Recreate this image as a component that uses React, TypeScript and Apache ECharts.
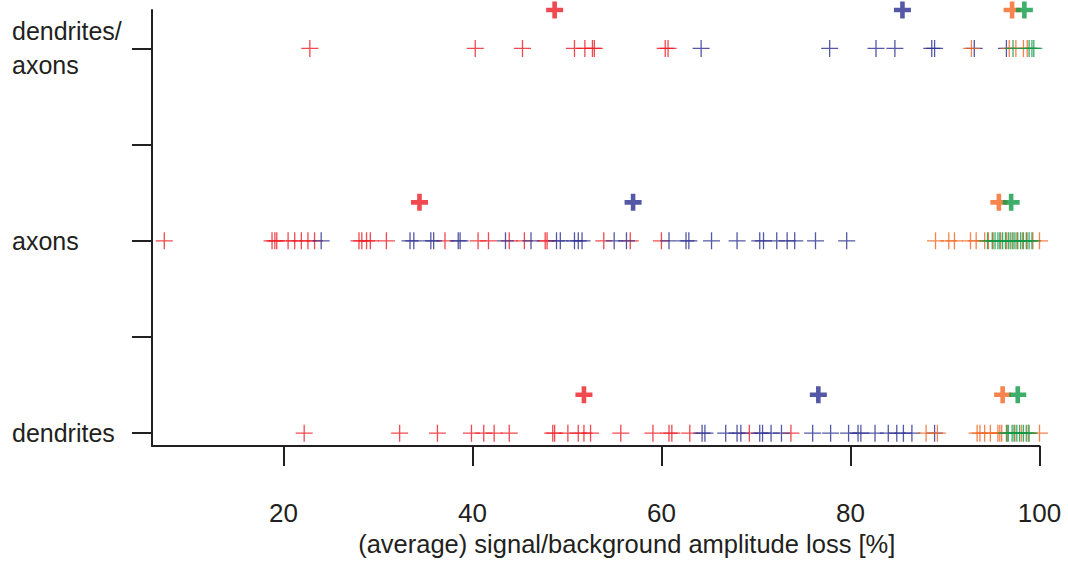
import React, { useEffect, useRef } from "react";
import * as echarts from "echarts";

// Row positions on the y axis
const rowNames: Record<number, string> = { 0: "dendrites", 2: "axons", 4: "dendrites/\naxons" };
const rowDendrites = 0;
const rowAxons = 2;
const rowBoth = 4;
const meanOffset = 0.4;

const xTicks = [20, 40, 60, 80, 100];
const yTicks = [0, 1, 2, 3, 4];
const yLabelTicks = [0, 2, 4];

// Individual measurements, amplitude loss [%]
const dendritesRed = [22.2, 32.3, 36.3, 39.9, 41.2, 42.3, 43.9, 48.5, 48.7, 50.1, 51.2, 51.8, 52.5, 55.7, 59.1, 60.8, 61.1, 63.0, 69.3, 73.7];
const dendritesBlue = [64.3, 64.6, 66.8, 68.0, 68.4, 70.4, 70.7, 71.6, 72.7, 76.0, 77.9, 79.8, 80.8, 81.1, 82.6, 84.0, 84.9, 85.6, 86.5, 88.9];
const dendritesOrange = [88.0, 89.2, 93.4, 93.7, 94.2, 94.8, 95.6, 95.8, 96.0, 96.6, 97.4, 98.1, 98.8, 100.0];
const dendritesGreen = [96.5, 96.7, 97.1, 97.3, 97.6, 97.9, 98.3, 98.6, 98.9];

const axonsRed = [7.4, 18.8, 19.1, 19.3, 20.5, 21.2, 21.9, 22.6, 23.3, 28.0, 28.3, 28.8, 29.2, 30.9, 37.1, 40.6, 41.7, 43.9, 45.5, 47.7, 47.9, 53.9, 56.7, 60.0];
const axonsBlue = [24.0, 33.4, 33.8, 35.6, 35.9, 38.5, 38.7, 43.5, 46.2, 48.9, 49.3, 50.8, 51.2, 51.6, 55.0, 56.3, 60.8, 62.6, 62.9, 65.3, 68.0, 70.4, 70.8, 72.2, 73.3, 74.1, 76.3, 79.6];
const axonsOrange = [89.0, 90.4, 91.0, 92.7, 93.3, 94.2, 94.6, 95.1, 95.9, 96.5, 97.1, 97.6, 98.2, 98.7, 99.3, 100.0];
const axonsGreen = [94.5, 95.0, 95.3, 95.6, 95.8, 96.1, 96.4, 96.7, 96.9, 97.2, 97.4, 97.7, 98.0, 98.3, 98.6, 98.9, 99.2];

const bothRed = [22.8, 40.3, 45.3, 50.8, 51.9, 52.7, 52.9, 60.4, 60.7];
const bothBlue = [64.2, 77.8, 82.7, 84.7, 88.6, 88.9, 93.1, 96.5];
const bothOrange = [92.8, 96.8, 97.5, 98.3, 98.7];
const bothGreen = [97.2, 98.9, 99.2, 99.4];

// Means, in order: dendrites, axons, dendrites/axons
const meanRed = [51.8, 34.4, 48.7];
const meanBlue = [76.6, 57.0, 85.5];
const meanOrange = [96.1, 95.7, 97.1];
const meanGreen = [97.7, 97.0, 98.4];

const RED = "#ed1c24";
const BLUE = "#2b2e8f";
const ORANGE = "#f26522";
const GREEN = "#0f9a46";
const INK = "#231f20";
const FONT = "'Liberation Sans', Arial, Helvetica, sans-serif";

const THIN = "path://M7.85,0H9.15V7.85H17V9.15H9.15V17H7.85V9.15H0V7.85H7.85Z";
const BOLD = "path://M6.2,0H10.8V6.2H17V10.8H10.8V17H6.2V10.8H0V6.2H6.2Z";

const rowsOf = (d: number[], a: number[], b: number[]) => [
  ...d.map((v) => [v, rowDendrites]),
  ...a.map((v) => [v, rowAxons]),
  ...b.map((v) => [v, rowBoth]),
];
const meansOf = (m: number[]) => [
  [m[0], rowDendrites + meanOffset],
  [m[1], rowAxons + meanOffset],
  [m[2], rowBoth + meanOffset],
];

export default function App() {
  const ref = useRef<HTMLDivElement>(null);
  useEffect(() => {
    if (!ref.current) return;
    const chart = echarts.init(ref.current, undefined, { renderer: "svg" });
    const pts = (name: string, color: string, data: number[][]) => ({
      name,
      type: "scatter",
      data,
      symbol: THIN,
      symbolSize: 17,
      clip: false,
      itemStyle: { color },
      silent: true,
    });
    const means = (name: string, color: string, data: number[][]) => ({
      name,
      type: "scatter",
      data,
      symbol: BOLD,
      symbolSize: 17,
      clip: false,
      itemStyle: { color },
      silent: true,
      z: 5,
    });
    chart.setOption({
      animation: false,
      backgroundColor: "#ffffff",
      grid: { left: 152, right: 28.5, top: 10, bottom: 105 },
      xAxis: {
        type: "value",
        min: 6.1,
        max: 100,
        splitLine: { show: false },
        axisLine: { show: true, onZero: false, lineStyle: { color: INK, width: 2 } },
        axisTick: { show: true, length: 20, customValues: xTicks, lineStyle: { color: INK, width: 2 } },
        axisLabel: { customValues: xTicks, margin: 54, color: INK, fontSize: 26, fontFamily: FONT },
        name: "(average) signal/background amplitude loss [%]",
        nameLocation: "middle",
        nameGap: 79,
        nameTextStyle: { color: INK, fontSize: 25.5, fontFamily: FONT, padding: [0, 0, 0, 62] },
      },
      yAxis: {
        type: "value",
        min: -0.134,
        max: 4.4,
        splitLine: { show: false },
        axisLine: { show: true, onZero: false, lineStyle: { color: INK, width: 2 } },
        axisTick: { show: true, length: 20, customValues: yTicks, lineStyle: { color: INK, width: 2 } },
        axisLabel: {
          customValues: yLabelTicks,
          formatter: (v: number) => rowNames[Math.round(v)] ?? "",
          margin: 140,
          align: "left",
          color: INK,
          fontSize: 25,
          lineHeight: 34,
          fontFamily: FONT,
        },
      },
      series: [
        pts("red", RED, rowsOf(dendritesRed, axonsRed, bothRed)),
        pts("blue", BLUE, rowsOf(dendritesBlue, axonsBlue, bothBlue)),
        pts("orange", ORANGE, rowsOf(dendritesOrange, axonsOrange, bothOrange)),
        pts("green", GREEN, rowsOf(dendritesGreen, axonsGreen, bothGreen)),
        means("red mean", RED, meansOf(meanRed)),
        means("blue mean", BLUE, meansOf(meanBlue)),
        means("orange mean", ORANGE, meansOf(meanOrange)),
        means("green mean", GREEN, meansOf(meanGreen)),
      ],
    });
    return () => chart.dispose();
  }, []);
  return (
    <div
      ref={ref}
      style={{ position: "fixed", left: 0, top: 0, width: 1068, height: 562, background: "#fff" }}
    />
  );
}
